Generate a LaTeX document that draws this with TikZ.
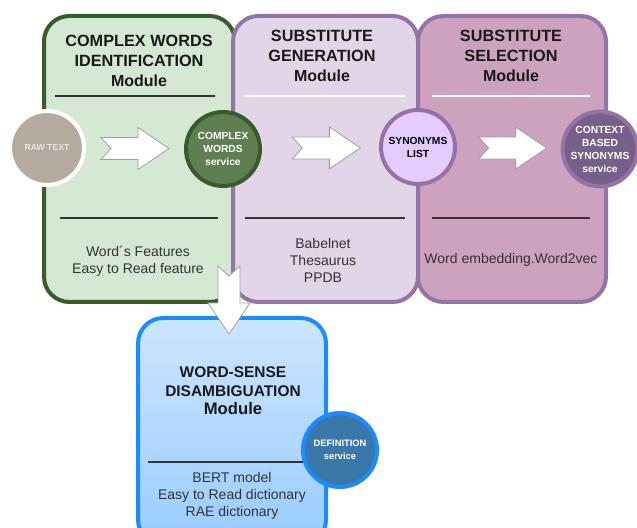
\documentclass[tikz,border=0pt]{standalone}
\usepackage{fontspec}
\setmainfont{Liberation Sans}
\usetikzlibrary{calc,positioning}
\definecolor{cwifill}{HTML}{D5E8D4}
\definecolor{cwiline}{HTML}{3A5A2C}
\definecolor{cwicircle}{HTML}{5F7F50}
\definecolor{genfill}{HTML}{E1D5E7}
\definecolor{modline}{HTML}{9673A6}
\definecolor{selfill}{HTML}{CDA2BE}
\definecolor{syncircle}{HTML}{E5CCFF}
\definecolor{ctxcircle}{HTML}{76608A}
\definecolor{wsdtop}{HTML}{CCE5FF}
\definecolor{wsdbottom}{HTML}{99CCFF}
\definecolor{wsdline}{HTML}{1A8CFF}
\definecolor{defcircle}{HTML}{3A78AA}
\definecolor{rawcircle}{HTML}{B4AAA0}
\definecolor{rawtext}{HTML}{ECE8E4}
\definecolor{rule}{HTML}{333333}
\tikzset{
    module/.style={line width=3pt, rounded corners=19pt},
    title/.style={font=\fontsize{12.2}{15}\selectfont\bfseries, align=center, text=black!90},
    body/.style={font=\fontsize{10.5}{12.75}\selectfont, align=center, text=rule},
    service/.style={circle, line width=3pt, minimum size=55.5pt, inner sep=0pt,
        align=center, font=\fontsize{7.7}{9.75}\selectfont\bfseries},
    pics/flow/.style={code={
        \draw[gray!75, fill=white, line width=0.6pt]
            (-34,-11) -- (3,-11) -- (3,-21) -- (34,0) -- (3,21) -- (3,11)
            -- (-34,11) -- (-24,0) -- cycle;
    }}
}

\begin{document}
\begin{tikzpicture}[x=0.75pt, y=-0.75pt]
    \useasboundingbox (0,0) rectangle (637,528);

    % Module boxes
    \draw[module, draw=cwiline, fill=cwifill] (44,16) rectangle (235,302);
    \draw[module, draw=modline, fill=genfill] (233,16) rectangle (418,302);
    \draw[module, draw=modline, fill=selfill] (418,16) rectangle (606,302);

    % Separator lines
    \draw[rule, line width=1.1pt] (55,96) -- (215,96);
    \foreach \xa/\xb in {245/405, 432/590} {
        \draw[white, line width=1.1pt] (\xa,96) -- (\xb,96);
    }
    \foreach \xa/\xb in {60/218, 245/405, 432/590} {
        \draw[rule, line width=1.1pt] (\xa,218) -- (\xb,218);
    }

    % Titles
    \node[title] (cwititle) at (139,61)
        {COMPLEX WORDS\\IDENTIFICATION\\{\fontsize{12}{15}\selectfont Module}};
    \node[title] (gentitle) at (322,56)
        {SUBSTITUTE\\GENERATION\\{\fontsize{12}{15}\selectfont Module}};
    \node[title] (seltitle) at (511,56)
        {SUBSTITUTE\\SELECTION\\{\fontsize{12}{15}\selectfont Module}};

    % Resources
    \node[body] (cwires) at (138,261) {Word\textasciiacute s Features\\Easy to Read feature};
    \node[body] (genres) at (323,260) {Babelnet\\Thesaurus\\PPDB};
    \node[body] (selres) at (511,260) {Word embedding.Word2vec};

    % Services
    \node[service, draw=white, fill=rawcircle, text=rawtext,
        font=\fontsize{6.5}{8}\selectfont\bfseries] (raw) at (47,148) {RAW TEXT};
    \node[service, draw=cwiline, fill=cwicircle, text=white] (cws) at (223,149)
        {COMPLEX\\WORDS\\service};
    \node[service, draw=modline, fill=syncircle, text=black] (syn) at (418,147)
        {SYNONYMS\\LIST};
    \node[service, draw=modline, fill=ctxcircle, text=white] (ctx) at (600,149)
        {CONTEXT\\BASED\\SYNONYMS\\service};

    % Flow arrows
    \pic at ($(raw)!0.5!(cws)$) {flow};
    \pic at ($(cws)!0.53!(syn)$) {flow};
    \pic at ($(syn)!0.52!(ctx)$) {flow};

    % Word-sense disambiguation module
    \draw[module, draw=wsdline, top color=wsdtop, bottom color=wsdbottom]
        (138,318) rectangle (326,545);
    \draw[rule, line width=1.1pt] (148,462) -- (307,462);
    \node[title, font=\fontsize{11.6}{14}\selectfont\bfseries] (wsdtitle) at (233,391)
        {WORD-SENSE\\DISAMBIGUATION\\{\fontsize{12.5}{14}\selectfont Module}};
    \node[body] (wsdres) at (232,496)
        {BERT model\\Easy to Read dictionary\\RAE dictionary};
    \node[service, draw=wsdline, fill=defcircle, text=white,
        font=\fontsize{7}{9.75}\selectfont\bfseries] (def) at (340,450)
        {DEFINITION\\service};

    % Down to WSD
    \coordinate (drop) at (229,300);
    \pic[rotate=-90] at (drop) {flow};
\end{tikzpicture}
\end{document}
